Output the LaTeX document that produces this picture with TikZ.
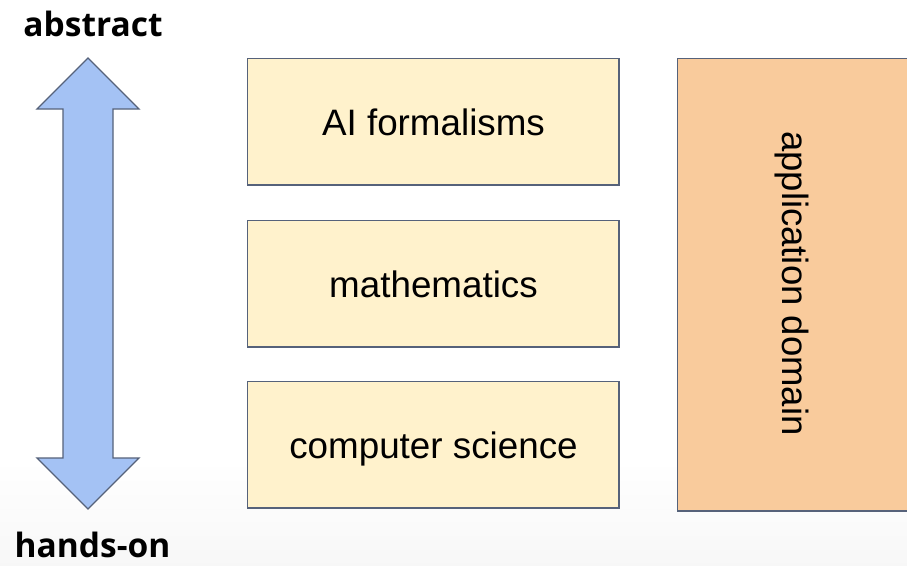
\documentclass[tikz,border=0pt]{standalone}
\usepackage{fontspec}
\setmainfont{Liberation Sans}
\newfontfamily\labelfont{Open Sans}
\definecolor{edgec}{HTML}{56627A}
\definecolor{arrowfill}{HTML}{A4C2F4}
\definecolor{boxfill}{HTML}{FFF2CC}
\definecolor{domfill}{HTML}{F9CB9C}
\begin{document}
\begin{tikzpicture}[x=1pt,y=-1pt,
  layerbox/.style={draw=edgec,line width=1.8pt,fill=boxfill},
  boxtext/.style={anchor=base,inner sep=0pt,font=\fontsize{36.8}{40}\selectfont},
  sidelabel/.style={anchor=base,font=\labelfont\bfseries\fontsize{33.5}{36}\selectfont,inner sep=0pt}]
\useasboundingbox (0,0) rectangle (907,565);
\fill[white] (0,0) rectangle (907,565);
\shade[top color=white,bottom color=black!3] (0,460) rectangle (907,565);
% arrow
\draw[draw=edgec,line width=1.3pt,fill=arrowfill,line join=miter]
  (88,58) -- (139,109) -- (113,109) -- (113,458) -- (139,458) -- (88,509)
  -- (37,458) -- (63,458) -- (63,109) -- (37,109) -- cycle;
\node[sidelabel] (abs) at (93,36) {abstract};
\node[sidelabel] (hands) at (92.5,557) {hands-on};
% layer boxes
\draw[layerbox] (247.5,58.5) rectangle (619,185);
\draw[layerbox] (247.5,220.5) rectangle (619,347);
\draw[layerbox] (247.5,381.5) rectangle (619,508);
\node[boxtext] (ai) at (433.5,135) {AI formalisms};
\node[boxtext] (math) at (433.5,297) {mathematics};
\node[boxtext] (cs) at (433.5,458) {computer science};
% application domain
\draw[layerbox,fill=domfill] (677.5,58.5) rectangle (915,511);
\node[rotate=-90,anchor=base west,font=\fontsize{36.5}{40}\selectfont,inner sep=0pt] (dom) at (782,131) {application domain};
\end{tikzpicture}
\end{document}
